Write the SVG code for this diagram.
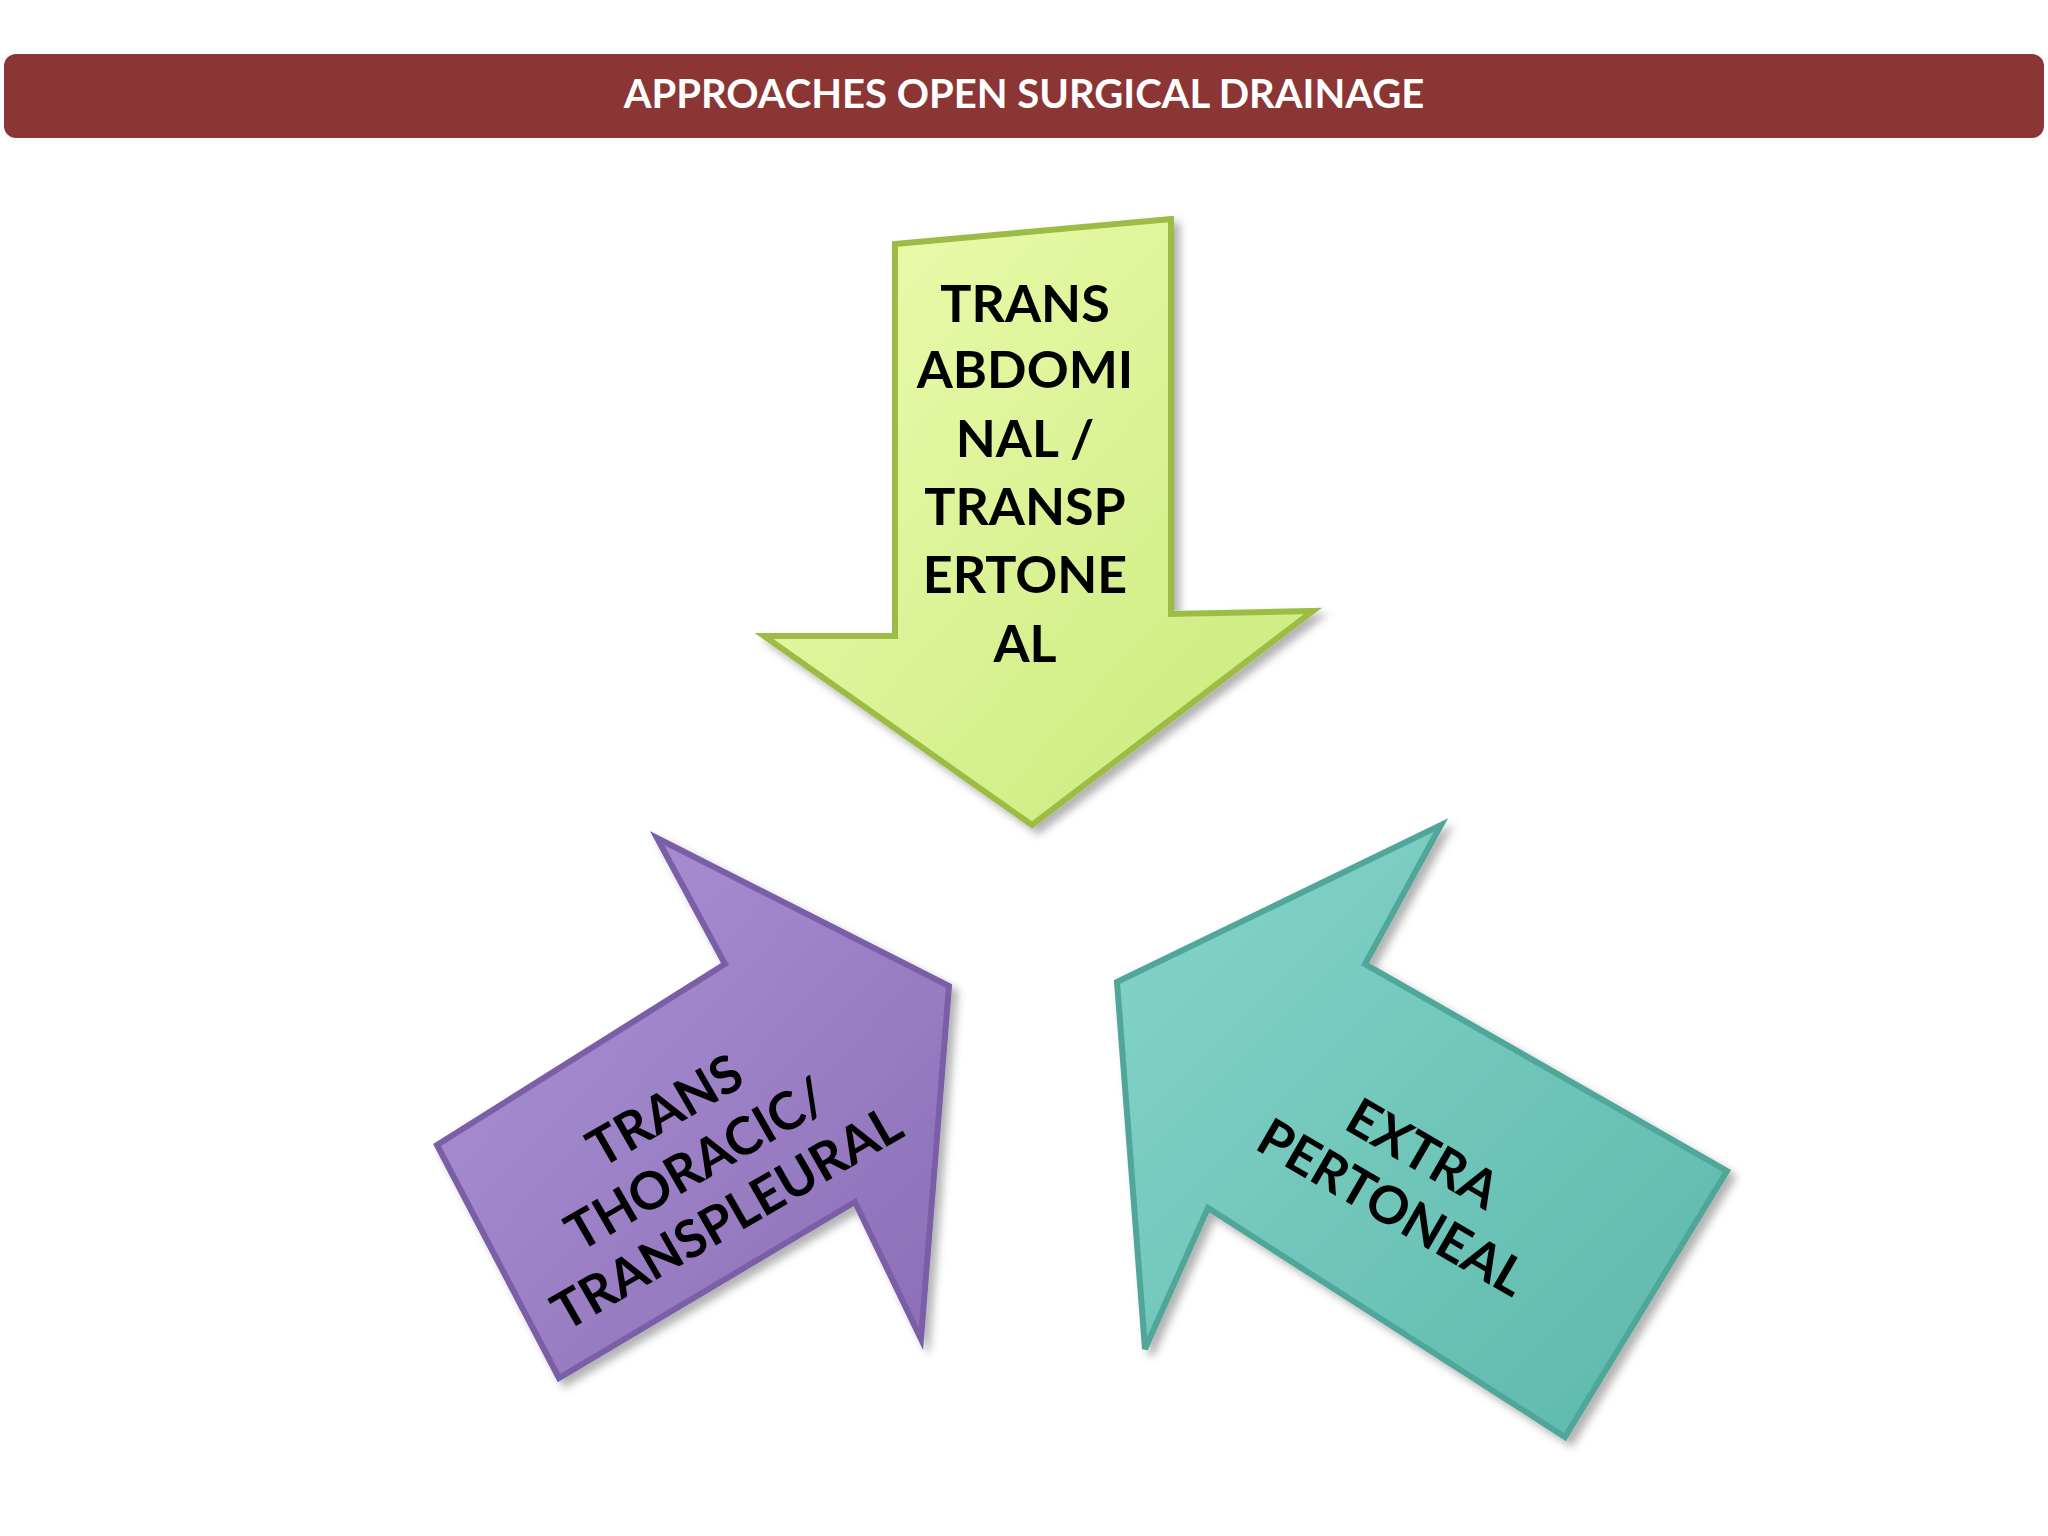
<svg xmlns="http://www.w3.org/2000/svg" width="2048" height="1536" viewBox="0 0 2048 1536">
<style>
.lbl{font-family:Lato,"Open Sans","Liberation Sans",sans-serif;font-weight:bold;font-size:52px;fill:#000;text-anchor:middle}
.title{font-family:Lato,"Open Sans","Liberation Sans",sans-serif;font-weight:bold;font-size:40px;fill:#fff;text-anchor:middle}
.arr{stroke-width:6;stroke-linejoin:miter;filter:url(#sh)}
</style>
<defs>
<filter id="sh" x="-10%" y="-10%" width="130%" height="130%"><feDropShadow dx="6" dy="6" stdDeviation="4" flood-color="#000" flood-opacity="0.3"/></filter>
<linearGradient id="gg" x1="0" y1="0" x2="1" y2="1"><stop offset="0" stop-color="#eefcb0"/><stop offset="1" stop-color="#c9e97a"/></linearGradient>
<linearGradient id="pg" x1="0" y1="0" x2="1" y2="1"><stop offset="0" stop-color="#ad95d6"/><stop offset="1" stop-color="#8a6db6"/></linearGradient>
<linearGradient id="tg" x1="0" y1="0" x2="1" y2="1"><stop offset="0" stop-color="#86d4ca"/><stop offset="1" stop-color="#5bb8aa"/></linearGradient>
</defs>
<rect width="2048" height="1536" fill="#fff"/>
<g id="title"><rect x="4" y="54" width="2040" height="84" rx="12" fill="#8b3535"/><text class="title" x="1024" y="108">APPROACHES OPEN SURGICAL DRAINAGE</text></g>
<g id="transabdominal">
<polygon class="arr" points="895,244 1171,219 1171,614 1313,611 1032,825 764,636 895,636" fill="url(#gg)" stroke="#9dbc45"/>
<text class="lbl"><tspan x="1025" y="322">TRANS</tspan><tspan x="1025" y="388">ABDOMI</tspan><tspan x="1025" y="457">NAL /</tspan><tspan x="1025" y="525">TRANSP</tspan><tspan x="1025" y="593">ERTONE</tspan><tspan x="1025" y="662">AL</tspan></text>
</g>
<g id="transthoracic">
<polygon class="arr" points="559,1378 437,1145 725,964 657,838 949,986 921,1339 855,1202" fill="url(#pg)" stroke="#7a5fa8"/>
<text class="lbl" transform="translate(705,1180) rotate(-30)"><tspan x="0" y="-62">TRANS</tspan><tspan x="0" y="0">THORACIC/</tspan><tspan x="0" y="62">TRANSPLEURAL</tspan></text>
</g>
<g id="extraperitoneal">
<polygon class="arr" points="1117,982 1441,825 1365,964 1727,1171 1565,1437 1208,1208 1145,1349" fill="url(#tg)" stroke="#4fa699"/>
<text class="lbl" transform="translate(1405,1185) rotate(30)"><tspan x="0" y="-18">EXTRA</tspan><tspan x="0" y="44">PERTONEAL</tspan></text>
</g>
<g id="connectors"></g>
</svg>
